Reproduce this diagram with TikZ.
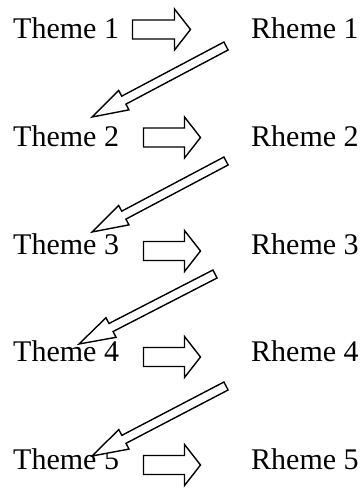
\documentclass[tikz,border=0pt]{standalone}
\usepackage{fontspec}
\setmainfont{Liberation Serif}
\usetikzlibrary{calc}
% block arrow: #1 tail coordinate, #2 tip coordinate, #3 half shaft width, #4 half head width, #5 head length
\newcommand\blockarrow[5]{%
  \coordinate (hb) at ($(#2)!#5!(#1)$);
  \draw[blockline] ($(#1)!#3!90:(#2)$) -- ($(hb)!#3!-90:(#1)$) -- ($(hb)!#4!-90:(#1)$)
    -- (#2) -- ($(hb)!#4!90:(#1)$) -- ($(hb)!#3!90:(#1)$) -- ($(#1)!#3!-90:(#2)$) -- cycle;
}
\begin{document}
\begin{tikzpicture}[x=1pt,y=-1pt,
  txt/.style={anchor=base west, inner sep=0pt, font=\fontsize{30}{36}\selectfont},
  blockline/.style={draw=black, line width=1.4pt, fill=white, line join=miter}]
\useasboundingbox (0,0) rectangle (363,488);
\foreach \i/\y in {1/38,2/146,3/254,4/361,5/469}{
  \node[txt] (t\i) at (13,\y) {Theme \i};
  \node[txt] (r\i) at (251,\y) {Rheme \i};
}
% horizontal arrows
\coordinate (h1s) at (132.5,29.5);  \coordinate (h1e) at (190.5,29.5);
\coordinate (h2s) at (143.5,137.5); \coordinate (h2e) at (200.5,137.5);
\coordinate (h3s) at (143.5,251);   \coordinate (h3e) at (200.5,251);
\coordinate (h4s) at (143.5,357);   \coordinate (h4e) at (200.5,357);
\coordinate (h5s) at (143.5,465);   \coordinate (h5e) at (200.5,465);
\foreach \i in {1,...,5}{\blockarrow{h\i s}{h\i e}{9.5pt}{20.5pt}{16pt}}
% diagonal arrows
\coordinate (d1s) at (226,46);  \coordinate (d1e) at (92,117);
\coordinate (d2s) at (226,161); \coordinate (d2e) at (92,232);
\coordinate (d3s) at (215,274); \coordinate (d3e) at (79,344);
\coordinate (d4s) at (226,386); \coordinate (d4e) at (92,456);
\foreach \i in {1,...,4}{\blockarrow{d\i s}{d\i e}{4.5pt}{11pt}{36pt}}
\end{tikzpicture}
\end{document}
